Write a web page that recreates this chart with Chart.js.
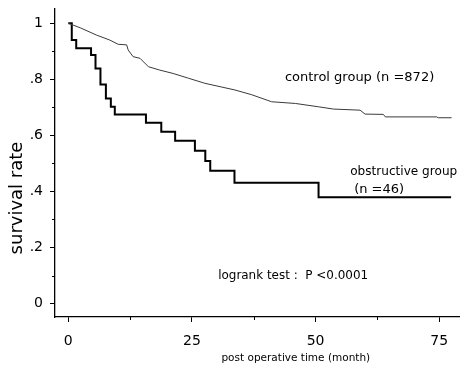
<!DOCTYPE html>
<html>
<head>
<meta charset="utf-8">
<script src="https://cdn.jsdelivr.net/npm/chart.js@4/dist/chart.umd.min.js"></script>
<style>
  html, body { margin: 0; padding: 0; background: #fff; }
  #wrap { width: 460px; height: 373px; }
</style>
</head>
<body>
<div id="wrap"><canvas id="c" width="460" height="373"></canvas></div>
<script>
// ---- data ----
const obstructiveMonths = [0, 0.7, 1.6, 4.6, 5.5, 6.5, 7.6, 8.6, 9.4, 15.7, 18.8, 21.6, 25.6, 27.7, 28.7, 33.6, 50.6, 77.4];
const obstructiveSurvival = [1.0, 0.940, 0.911, 0.887, 0.839, 0.782, 0.732, 0.702, 0.675, 0.645, 0.613, 0.581, 0.545, 0.509, 0.474, 0.431, 0.379, 0.379];

const controlMonths = [0, 2.4, 5.7, 8.4, 10.1, 11.8, 12.1, 13.1, 14.5, 16.2, 18.5, 21.2, 24.3, 27.6, 33.7, 37.1, 41.1, 45.9, 50.6, 53.6, 59.0, 60.0, 63.7, 64.1, 74.5, 74.8, 77.5];
const controlSurvival = [1.0, 0.984, 0.958, 0.940, 0.925, 0.923, 0.905, 0.881, 0.875, 0.845, 0.833, 0.821, 0.804, 0.786, 0.762, 0.745, 0.720, 0.714, 0.702, 0.694, 0.690, 0.676, 0.675, 0.666, 0.666, 0.663, 0.663];

const xTickValues = [0, 25, 50, 75];
const xMinorTickValues = [12.5, 37.5, 62.5];
const yTickValues = [0, 0.2, 0.4, 0.6, 0.8, 1];
const yTickLabels = ['0', '.2', '.4', '.6', '.8', '1'];
const yMinorTickValues = [0.1, 0.3, 0.5, 0.7, 0.9];

const yAxisTitle = 'survival rate';
const xAxisTitle = 'post operative time (month)';
const annotations = [
  { text: 'control group (n =872)', x: 43.8, y: 0.805, maxWidth: 150 },
  { text: 'obstructive group', x: 57.0, y: 0.4725, maxWidth: 107 },
  { text: '(n =46)', x: 57.8, y: 0.405, maxWidth: 60 },
  { text: 'logrank test :  P <0.0001', x: 30.3, y: 0.0986, maxWidth: 150 }
];

const toPoints = (xs, ys) => xs.map((x, i) => ({ x: x, y: ys[i] }));

const FONT = '"DejaVu Sans", sans-serif';

const decor = {
  id: 'decor',
  afterDraw(chart) {
    const ctx = chart.ctx;
    const xs = chart.scales.x, ys = chart.scales.y;
    const area = chart.chartArea;
    ctx.save();
    // minor ticks
    ctx.strokeStyle = '#000';
    ctx.lineWidth = 1;
    ctx.beginPath();
    xMinorTickValues.forEach(v => {
      const px = Math.round(xs.getPixelForValue(v)) + 0.5;
      ctx.moveTo(px, area.bottom);
      ctx.lineTo(px, area.bottom + 3);
    });
    yMinorTickValues.forEach(v => {
      const py = Math.round(ys.getPixelForValue(v)) + 0.5;
      ctx.moveTo(area.left, py);
      ctx.lineTo(area.left - 3, py);
    });
    ctx.stroke();

    ctx.fillStyle = '#000';
    // annotations
    ctx.font = '13px ' + FONT;
    ctx.textAlign = 'left';
    ctx.textBaseline = 'middle';
    annotations.forEach(a => {
      ctx.fillText(a.text, xs.getPixelForValue(a.x), ys.getPixelForValue(a.y), a.maxWidth);
    });
    // x axis title
    ctx.font = '10.5px ' + FONT;
    ctx.textAlign = 'center';
    ctx.textBaseline = 'middle';
    ctx.fillText(xAxisTitle, xs.getPixelForValue(46), 358);
    // y axis title
    ctx.font = '18px ' + FONT;
    ctx.translate(22, 198);
    ctx.rotate(-Math.PI / 2);
    ctx.textAlign = 'center';
    ctx.textBaseline = 'alphabetic';
    ctx.fillText(yAxisTitle, 0, 0);
    ctx.restore();
  }
};

const noPad = s => { s.paddingTop = 0; s.paddingBottom = 0; s.paddingLeft = 0; s.paddingRight = 0; };

new Chart(document.getElementById('c'), {
  type: 'line',
  data: {
    datasets: [
      {
        label: 'control group',
        data: toPoints(controlMonths, controlSurvival),
        borderColor: '#3a3a3a',
        borderWidth: 1,
        pointRadius: 0,
        tension: 0,
        fill: false
      },
      {
        label: 'obstructive group',
        data: toPoints(obstructiveMonths, obstructiveSurvival),
        borderColor: '#000',
        borderWidth: 2,
        pointRadius: 0,
        stepped: 'before',
        tension: 0,
        fill: false
      }
    ]
  },
  options: {
    responsive: false,
    animation: false,
    events: [],
    layout: { padding: { top: 9, right: 0, left: 0, bottom: 0 } },
    plugins: { legend: { display: false }, tooltip: { enabled: false } },
    scales: {
      x: {
        type: 'linear',
        min: -2.69,
        max: 79.2,
        afterBuildTicks: s => { s.ticks = xTickValues.map(v => ({ value: v })); },
        afterFit: s => { s.height = 56; noPad(s); },
        grid: { drawOnChartArea: false, drawTicks: true, tickLength: 5, tickColor: '#000' },
        border: { display: true, color: '#000', width: 1.3 },
        ticks: { color: '#000', font: { family: FONT, size: 14 }, padding: 11, maxRotation: 0 }
      },
      y: {
        type: 'linear',
        min: -0.048,
        max: 1.051,
        afterBuildTicks: s => { s.ticks = yTickValues.map(v => ({ value: v })); },
        afterFit: s => { s.width = 55; noPad(s); },
        grid: { drawOnChartArea: false, drawTicks: true, tickLength: 5, tickColor: '#000' },
        border: { display: true, color: '#000', width: 1.3 },
        ticks: {
          color: '#000',
          font: { family: FONT, size: 14 },
          padding: 7,
          callback: (v) => { const i = yTickValues.indexOf(v); return i >= 0 ? yTickLabels[i] : ''; }
        }
      }
    }
  },
  plugins: [decor]
});
</script>
</body>
</html>
